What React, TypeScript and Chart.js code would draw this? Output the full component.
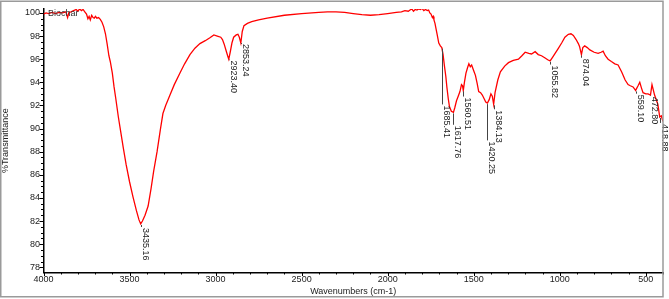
import React, { useEffect, useRef } from "react";
import { Chart, registerables } from "chart.js";
Chart.register(...registerables);

const seriesName = "Biochar";
const xTitle = "Wavenumbers (cm-1)";
const yTitle = "%Transmittance";

const wavenumbers = [
  4000, 3985, 3970, 3950, 3930, 3910, 3890, 3870, 3860, 3852, 3840, 3825, 3810, 3800, 3790, 3780, 3770, 3760, 3750,
  3742, 3735, 3728, 3720, 3712, 3705, 3698, 3690, 3680, 3670, 3660, 3650, 3640, 3630, 3620, 3612, 3600, 3590, 3580,
  3565, 3550, 3537, 3520, 3500, 3480, 3460, 3445, 3435.16, 3425, 3410, 3392, 3375, 3360, 3340, 3320, 3306, 3290, 3265,
  3240, 3207, 3180, 3149, 3120, 3091, 3060, 3033, 3010, 2990, 2970, 2960, 2950, 2940, 2930, 2923.4, 2915, 2905, 2895,
  2880, 2870, 2862, 2853.24, 2845, 2835, 2815, 2790, 2750, 2700, 2600, 2500, 2400, 2350, 2300, 2250, 2200, 2150, 2100,
  2050, 2000, 1950, 1920, 1900, 1880, 1870, 1860, 1850, 1840, 1830, 1820, 1810, 1800, 1790, 1780, 1770, 1762, 1755,
  1748, 1740, 1735, 1731, 1725, 1720, 1712, 1703, 1694, 1685.41, 1678, 1670, 1662, 1656, 1648, 1641, 1630, 1617.76,
  1610, 1600, 1590, 1580, 1571, 1565, 1560.51, 1554, 1545, 1535, 1528, 1520, 1512, 1500, 1490, 1480, 1471, 1460, 1450,
  1440, 1430, 1420.25, 1410, 1400, 1392, 1384.13, 1376, 1360, 1345, 1320, 1298, 1270, 1240, 1220, 1201, 1180, 1164,
  1143, 1125, 1106, 1085, 1070, 1055.82, 1040, 1027, 1010, 989, 970, 950, 935, 921, 905, 892, 885, 874.04, 866, 855,
  840, 825, 800, 777, 760, 748, 735, 719, 700, 680, 661, 640, 620, 603, 590, 574, 559.1, 545, 535, 525, 516, 500, 487,
  472.8, 464, 449, 430, 418.88, 410, 400,
];

const transmittance = [
  99.9, 100.0, 99.95, 100.05, 99.95, 100.05, 100.0, 100.1, 99.6, 100.05, 100.1, 100.2, 100.3, 100.15, 100.35, 100.2,
  100.3, 100.1, 99.9, 99.5, 99.7, 99.4, 99.8, 99.6, 99.55, 99.7, 99.55, 99.6, 99.45, 99.2, 98.8, 98.2, 97.3, 96.3, 95.8,
  94.8, 93.6, 92.6, 91.0, 89.6, 88.4, 86.9, 85.4, 84.1, 82.9, 82.1, 81.75, 82.0, 82.5, 83.3, 84.8, 86.3, 88.0, 90.0,
  91.3, 92.0, 92.9, 93.8, 94.8, 95.6, 96.4, 96.95, 97.35, 97.6, 97.85, 98.1, 98.0, 97.9, 97.7, 97.3, 96.8, 96.3, 96.0,
  96.6, 97.4, 97.9, 98.1, 98.15, 97.9, 97.4, 98.4, 98.9, 99.1, 99.25, 99.4, 99.55, 99.8, 99.95, 100.05, 100.1, 100.1,
  100.05, 99.95, 99.85, 99.8, 99.85, 99.95, 100.05, 100.1, 100.2, 100.15, 100.25, 100.35, 100.15, 100.3, 100.25, 100.35,
  100.3, 100.4, 100.2, 100.3, 100.2, 100.25, 100.0, 99.9, 99.6, 99.7, 99.4, 99.1, 98.7, 98.1, 97.4, 97.15, 97.0, 96.4,
  95.4, 94.5, 93.6, 92.6, 91.9, 91.5, 91.4, 91.8, 92.4, 92.8, 93.2, 93.8, 93.7, 93.3, 94.0, 94.8, 95.3, 95.6, 95.35,
  95.5, 95.0, 94.6, 93.9, 93.2, 93.1, 92.9, 92.6, 92.3, 92.2, 92.5, 93.0, 92.8, 92.1, 93.1, 94.2, 94.9, 95.4, 95.7,
  95.9, 96.0, 96.3, 96.6, 96.5, 96.45, 96.65, 96.4, 96.3, 96.1, 95.95, 95.85, 96.2, 96.5, 96.9, 97.4, 97.9, 98.15,
  98.2, 98.05, 97.7, 97.35, 97.1, 96.4, 97.0, 97.15, 97.0, 96.8, 96.6, 96.5, 96.6, 96.7, 96.3, 96.0, 95.8, 95.6, 95.5,
  94.9, 94.2, 93.8, 93.7, 93.6, 93.3, 93.7, 94.0, 93.5, 93.1, 93.0, 93.0, 92.9, 93.8, 92.9, 92.1, 91.0, 91.1, 90.6,
];

const peakWavenumbers = [3435.16, 2923.4, 2853.24, 1685.41, 1617.76, 1560.51, 1420.25, 1384.13, 1055.82, 874.04, 559.1, 472.8, 418.88];
// value (in %T) at which each rotated peak label begins
const peakLabelTop = [81.4, 95.88, 97.31, 92.0, 90.24, 92.68, 88.89, 91.58, 95.45, 96.04, 92.93, 92.76, 90.4];

const xTicks = [4000, 3500, 3000, 2500, 2000, 1500, 1000, 500];
const yTicks = [78, 80, 82, 84, 86, 88, 90, 92, 94, 96, 98, 100];

const FONT = "Liberation Sans, Arial, sans-serif";

export default function App() {
  const ref = useRef<HTMLCanvasElement | null>(null);
  useEffect(() => {
    if (!ref.current) return;
    const overlay = {
      id: "overlay",
      afterDatasetsDraw(chart: any) {
        const ctx = chart.ctx;
        const xs = chart.scales.x;
        const ys = chart.scales.y;
        const area = chart.chartArea;
        ctx.save();
        // minor/major ticks
        ctx.strokeStyle = "#000";
        ctx.lineWidth = 1;
        for (let v = 78; v <= 100.001; v += 0.5) {
          const y = Math.round(ys.getPixelForValue(v)) + 0.5;
          const major = Math.abs(v / 2 - Math.round(v / 2)) < 1e-6;
          ctx.beginPath();
          ctx.moveTo(area.left - (major ? 4 : 2.5), y);
          ctx.lineTo(area.left, y);
          ctx.stroke();
        }
        for (let v = 400; v <= 4000; v += 100) {
          const x = Math.round(xs.getPixelForValue(v)) + 0.5;
          const major = v % 500 === 0;
          ctx.beginPath();
          ctx.moveTo(x, area.bottom);
          ctx.lineTo(x, area.bottom + (major ? 3.5 : 2));
          ctx.stroke();
        }
        // peak labels
        ctx.font = `9px ${FONT}`;
        ctx.fillStyle = "#222";
        peakWavenumbers.forEach((wn, i) => {
          const idx = wavenumbers.indexOf(wn);
          const t = transmittance[idx];
          const x = Math.round(xs.getPixelForValue(wn)) + 0.5;
          const y0 = ys.getPixelForValue(t) + 1;
          const y1 = ys.getPixelForValue(peakLabelTop[i]);
          ctx.strokeStyle = "#444";
          ctx.lineWidth = 1;
          ctx.beginPath();
          ctx.moveTo(x, y0);
          ctx.lineTo(x, y1 - 1);
          ctx.stroke();
          ctx.save();
          ctx.translate(x + 1.5, y1);
          ctx.rotate(Math.PI / 2);
          ctx.textAlign = "left";
          ctx.textBaseline = "alphabetic";
          ctx.fillText(wn.toFixed(2), 0, 0);
          ctx.restore();
        });
        // series name
        ctx.fillStyle = "#333";
        ctx.textAlign = "left";
        ctx.textBaseline = "middle";
        ctx.fillText(seriesName, area.left + 4.5, ys.getPixelForValue(100) + 0.8);
        // outer frame
        ctx.strokeStyle = "#9a9a9a";
        ctx.lineWidth = 1.5;
        ctx.strokeRect(0.75, 1.25, 662.25, 295.5);
        ctx.restore();
      },
    };
    const chart = new Chart(ref.current, {
      type: "line",
      data: {
        datasets: [
          {
            label: seriesName,
            data: wavenumbers.map((w, i) => ({ x: w, y: transmittance[i] })),
            borderColor: "#ff0000",
            borderWidth: 1.3,
            pointRadius: 0,
            tension: 0,
            fill: false,
          },
        ],
      },
      options: {
        animation: false,
        responsive: false,
        devicePixelRatio: 1,
        layout: { padding: { left: 0, top: 2, right: 6, bottom: 2 } },
        plugins: { legend: { display: false }, tooltip: { enabled: false } },
        scales: {
          x: {
            type: "linear",
            reverse: true,
            min: 400,
            max: 4000,
            grid: { display: false, drawTicks: false },
            border: { display: true, color: "#000", width: 1.5 },
            afterBuildTicks: (s: any) => {
              s.ticks = xTicks.map((v) => ({ value: v }));
            },
            afterFit: (s: any) => {
              s.height = 24.5;
            },
            ticks: {
              autoSkip: false,
              maxRotation: 0,
              padding: 2,
              color: "#222",
              font: { family: FONT, size: 9 },
              callback: (v: any) => String(v),
            },
            title: {
              display: true,
              text: xTitle,
              color: "#222",
              padding: 0,
              font: { family: FONT, size: 9 },
            },
          },
          y: {
            type: "linear",
            min: 77.55,
            max: 100.35,
            grid: { display: false, drawTicks: false },
            border: { display: true, color: "#000", width: 1.5 },
            afterBuildTicks: (s: any) => {
              s.ticks = yTicks.map((v) => ({ value: v }));
            },
            afterFit: (s: any) => {
              s.width = 43.5;
            },
            ticks: {
              autoSkip: false,
              padding: 3.5,
              color: "#222",
              font: { family: FONT, size: 9 },
              callback: (v: any) => String(v),
            },
            title: {
              display: true,
              text: yTitle,
              color: "#222",
              padding: 0,
              font: { family: FONT, size: 9 },
            },
          },
        },
      },
      plugins: [overlay],
    });
    return () => chart.destroy();
  }, []);
  return (
    <div style={{ position: "fixed", left: 0, top: 0, width: 669, height: 299, background: "#fff" }}>
      <canvas ref={ref} width={669} height={299} style={{ display: "block", width: 669, height: 299 }} />
    </div>
  );
}
